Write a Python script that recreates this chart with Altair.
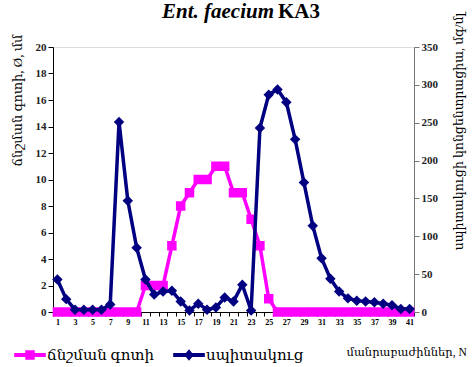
import altair as alt
import pandas as pd

fractions = list(range(1, 42))
zone = [0, 0, 0, 0, 0, 0, 0, 0, 0, 0,
        2, 2, 2, 5, 8, 9, 10, 10, 11, 11,
        9, 9, 7, 5, 1, 0, 0, 0, 0, 0,
        0, 0, 0, 0, 0, 0, 0, 0, 0, 0, 0]
protein = [43, 17, 3, 3, 3, 3, 10, 251, 147, 85,
           43, 23, 27, 28, 14, 2, 11, 3, 6, 19,
           14, 36, 2, 243, 287, 294, 277, 228, 171, 114,
           71, 44, 27, 18, 15, 14, 13, 11, 9, 4, 4]
series_names = ["ճնշման գոտի", "սպիտակուց"]
title_parts = ["Ent. faecium", "KA3"]
left_title = "ճնշման գոտի, Ø, մմ"
right_title = "սպիտակուցի կոնցենտրացիա, մգ/մլ"
x_title = "մանրաբաժիններ, N"

PINK = "#FF00FF"
NAVY = "#000080"
FONT = "Liberation Serif, DejaVu Serif, serif"

df_zone = pd.DataFrame({"n": fractions, "v": zone, "s": series_names[0]})
df_prot = pd.DataFrame({"n": fractions, "v": protein, "s": series_names[1]})
df_both = pd.concat([df_zone, df_prot], ignore_index=True)

xenc = alt.X("n:O", scale=alt.Scale(type="band", paddingInner=0, paddingOuter=0),
             axis=alt.Axis(title=x_title, labelAngle=0, tickBand="extent",
                           labelExpr="datum.value % 2 == 1 ? datum.label : ''",
                           labelFontSize=8, labelFontWeight="bold", labelFont=FONT,
                           labelPadding=2, tickSize=4, domainColor="#000", tickColor="#000",
                           titleFont=FONT, titleFontSize=11.5, titleFontWeight="normal",
                           titleAnchor="start", titleAlign="left", titleX=293, titleY=40,
                           titleBaseline="middle"))

yl = alt.Y("v:Q", scale=alt.Scale(domain=[0, 20]),
           axis=alt.Axis(orient="left", values=list(range(0, 21, 2)), title=left_title,
                         grid=False, labelFont=FONT, labelFontSize=11, labelFontWeight="bold",
                         labelColor="#222", tickSize=5, domainColor="#000", tickColor="#000",
                         titleFont=FONT, titleFontSize=13, titleFontWeight="normal",
                         titleAngle=270, titleX=-36, titleY=53, titleAlign="center",
                         titleBaseline="middle"))
yr = alt.Y("v:Q", scale=alt.Scale(domain=[0, 350]),
           axis=alt.Axis(orient="right", values=list(range(0, 351, 50)), title=right_title,
                         grid=False, labelFont=FONT, labelFontSize=11, labelFontWeight="bold",
                         labelColor="#222", tickSize=5, domainColor="#777", tickColor="#777",
                         titleFont=FONT, titleFontSize=12.5, titleFontWeight="normal",
                         titleAngle=270, titleX=44, titleY=84, titleAlign="center",
                         titleBaseline="middle"))

zone_line = alt.Chart(df_zone).mark_line(strokeWidth=3.5, color=PINK).encode(x=xenc, y=yl)
zone_pts = alt.Chart(df_zone).mark_point(shape="square", filled=True, opacity=1, size=90,
                                         color=PINK).encode(x=xenc, y=yl)

sq_path = "M-1,-0.12L1,-0.12L1,0.12L-1,0.12Z M-0.3,-0.3L0.3,-0.3L0.3,0.3L-0.3,0.3Z"
di_path = "M-1,-0.12L1,-0.12L1,0.12L-1,0.12Z M0,-0.36L0.3,0L0,0.36L-0.3,0Z"
leg = alt.Legend(title=None, orient="none", direction="horizontal",
                 legendX=-39, legendY=292, symbolOpacity=1,
                 symbolSize=1000, labelFont=FONT, labelFontSize=15,
                 labelColor="#000", columnPadding=18, labelOffset=1,
                 symbolStrokeWidth=0)
legend_layer = alt.Chart(df_both).mark_point(filled=True, opacity=0).encode(
    x=xenc, y=yl,
    color=alt.Color("s:N", scale=alt.Scale(domain=series_names, range=[PINK, NAVY]), legend=leg),
    shape=alt.Shape("s:N", scale=alt.Scale(domain=series_names, range=[sq_path, di_path]), legend=leg),
)

left = alt.layer(zone_line, zone_pts, legend_layer)

prot_line = alt.Chart(df_prot).mark_line(strokeWidth=3.5, color=NAVY).encode(x=xenc, y=yr)
prot_pts = alt.Chart(df_prot).mark_point(shape="diamond", filled=True, opacity=1, size=110,
                                         color=NAVY).encode(x=xenc, y=yr)
right = alt.layer(prot_line, prot_pts)

df_title = pd.DataFrame({"a": [title_parts[0]], "b": [title_parts[1]]})
t1 = alt.Chart(df_title).mark_text(font=FONT, fontSize=21, fontWeight="bold", fontStyle="italic",
                                   align="right", baseline="middle", color="#000").encode(
    text="a:N", x=alt.value(221), y=alt.value(-35))
t2 = alt.Chart(df_title).mark_text(font=FONT, fontSize=21, fontWeight="bold",
                                   align="left", baseline="middle", color="#000").encode(
    text="b:N", x=alt.value(225), y=alt.value(-35))

chart = alt.layer(left, right, t1, t2).resolve_scale(y="independent").properties(
    width=361, height=265,
    autosize=alt.AutoSizeParams(type="none"),
    padding={"left": 53, "top": 47, "right": 58, "bottom": 55},
).configure_view(stroke=None).configure(background="white")

chart.save("out.html", embed_options={"renderer": "svg", "actions": False})
